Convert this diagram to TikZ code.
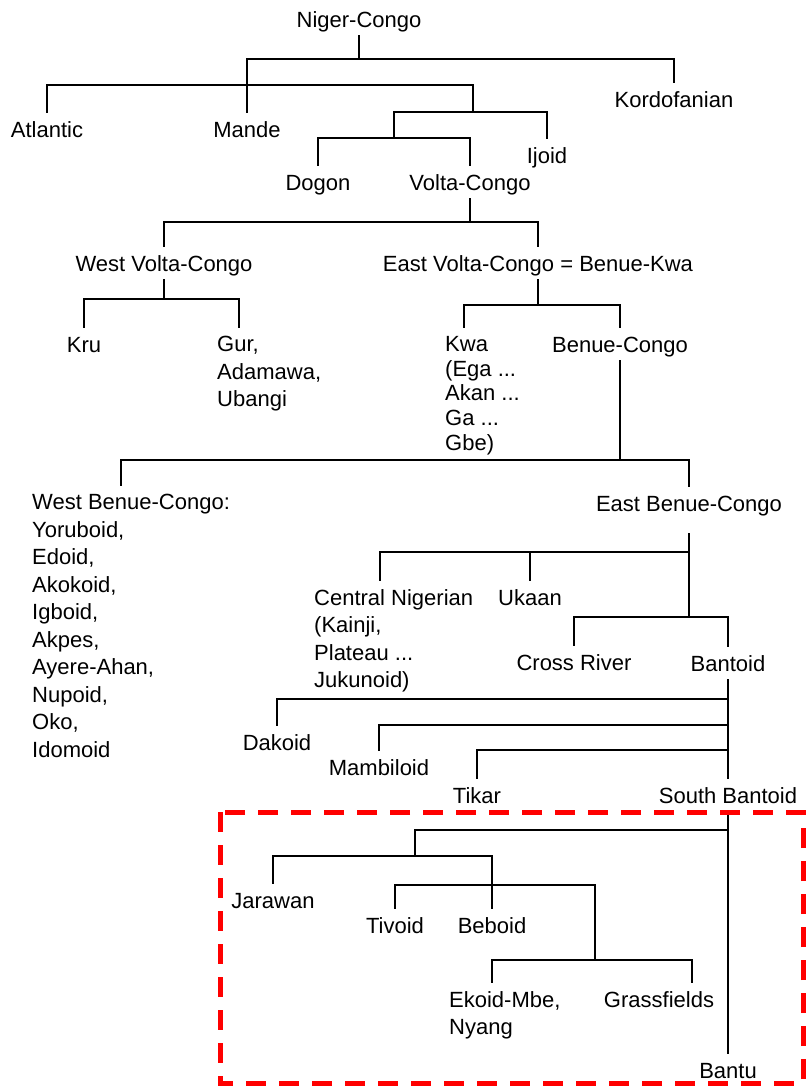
\documentclass[tikz,border=0pt]{standalone}
\usepackage{fontspec}
\setmainfont{Liberation Sans}
\usepackage{tikz}

\begin{document}
\begin{tikzpicture}[x=1pt, y=-1pt,
  lang/.style={font=\fontsize{22}{27.5}\selectfont, inner xsep=2pt, inner ysep=8pt, text height=16pt, text depth=0pt},
  langlist/.style={font=\fontsize{22}{27.5}\selectfont, inner xsep=2pt, inner ysep=8pt, align=left, anchor=north west},
  link/.style={line width=1.4pt},
  zone/.style={red, line width=5pt, dash pattern=on 20pt off 13pt}]

\useasboundingbox (0,0) rectangle (806,1087);

\node[lang] (nc) at (359,19) {Niger-Congo};
\node[lang] (kor) at (674,99) {Kordofanian};
\node[lang] (atl) at (47,129) {Atlantic};
\node[lang] (mande) at (247,129) {Mande};
\node[lang] (ijoid) at (547,155) {Ijoid};
\node[lang] (dogon) at (318,182) {Dogon};
\node[lang] (vc) at (470,182) {Volta-Congo};

\node[lang] (wvc) at (164,263) {West Volta-Congo};
\node[lang] (evc) at (538,263) {East Volta-Congo = Benue-Kwa};
\node[lang] (kru) at (84,344) {Kru};
\node[langlist] (gur) at (215,328) {Gur,\\Adamawa,\\Ubangi};
\node[langlist, font=\fontsize{22}{24.75}\selectfont] (kwa) at (443,328) {Kwa\\(Ega ...\\Akan ...\\Ga ...\\Gbe)};
\node[lang] (bc) at (620,344) {Benue-Congo};

\node[langlist] (wbc) at (30,486) {West Benue-Congo:\\Yoruboid,\\Edoid,\\Akokoid,\\Igboid,\\Akpes,\\Ayere-Ahan,\\Nupoid,\\Oko,\\Idomoid};
\node[lang] (ebc) at (689,503) {East Benue-Congo};
\node[langlist] (cn) at (312,581) {Central Nigerian\\(Kainji,\\Plateau ...\\Jukunoid)};
\node[lang] (ukaan) at (530,597) {Ukaan};
\node[lang] (cr) at (574,662) {Cross River};
\node[lang] (bant) at (728,663) {Bantoid};
\node[lang] (dak) at (277,742) {Dakoid};
\node[lang] (mamb) at (379,767) {Mambiloid};
\node[lang] (tikar) at (477,795) {Tikar};
\node[lang] (sb) at (728,795) {South Bantoid};

\node[lang] (jar) at (273,900) {Jarawan};
\node[lang] (tiv) at (395,925) {Tivoid};
\node[lang] (beb) at (492,925) {Beboid};
\node[langlist] (ekoid) at (447,983) {Ekoid-Mbe,\\Nyang};
\node[lang] (gf) at (659,999) {Grassfields};
\node[lang] (bantu) at (728,1070) {Bantu};

\coordinate (j0) at (359,59);
\coordinate (j1) at (247,85);
\coordinate (j2) at (473,112);
\coordinate (j3) at (394,138);
\coordinate (j4) at (470,222);
\coordinate (j5) at (164,299);
\coordinate (j6) at (538,305);
\coordinate (j7) at (620,460);
\coordinate (j8) at (689,552);
\coordinate (j9) at (689,617);
\coordinate (j10) at (728,699);
\coordinate (j11) at (728,725);
\coordinate (j12) at (728,750);
\coordinate (j13) at (728,830);
\coordinate (j14) at (415,856);
\coordinate (j15) at (492,885);
\coordinate (j16) at (595,960);

\draw[link] (nc) -- (j0) -| (kor);
\draw[link] (j0) -| (mande);
\draw[link] (j1) -| (atl);
\draw[link] (j1) -| (j2);
\draw[link] (j2) -| (ijoid);
\draw[link] (j2) -| (j3);
\draw[link] (j3) -| (dogon);
\draw[link] (j3) -| (vc);

\draw[link] (vc) -- (j4) -| (wvc);
\draw[link] (j4) -| (evc);
\draw[link] (wvc) -- (j5) -| (kru);
\draw[link] (j5) -| ([xshift=24pt]gur.north west);
\draw[link] (evc) -- (j6) -| ([xshift=21pt]kwa.north west);
\draw[link] (j6) -| (bc);

\draw[link] (bc) -- (j7) -| ([xshift=91pt]wbc.north west);
\draw[link] (j7) -| (ebc);
\draw[link] ([yshift=-14pt]ebc.south) -- (j8) -| ([xshift=68pt]cn.north west);
\draw[link] (j8) -| (ukaan);
\draw[link] (j8) -- (j9) -| (cr);
\draw[link] (j9) -| (bant);
\draw[link] (bant) -- (sb);
\draw[link] (j10) -| (dak);
\draw[link] (j11) -| (mamb);
\draw[link] (j12) -| (tikar);

\draw[link] (sb) -- (bantu);
\draw[link] (j13) -| (j14);
\draw[link] (j14) -| (jar);
\draw[link] (j14) -| (beb);
\draw[link] (j15) -| (tiv);
\draw[link] (j15) -| (j16);
\draw[link] (j16) -| ([xshift=45pt]ekoid.north west);
\draw[link] (j16) -| ([xshift=33pt]gf.north);

\draw[zone] (220,812) rectangle (803,1083);

\end{tikzpicture}
\end{document}
